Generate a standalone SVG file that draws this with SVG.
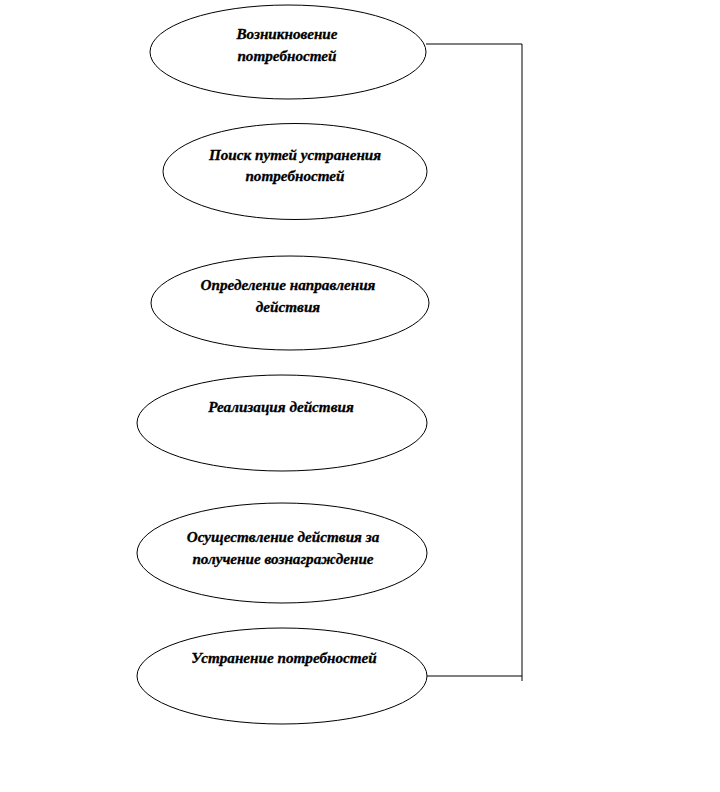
<svg xmlns="http://www.w3.org/2000/svg" width="720" height="792" viewBox="0 0 720 792">
<style>
.n{fill:#fff;stroke:#000;stroke-width:1}
.t{font-family:"Liberation Serif",serif;font-size:15.2px;font-weight:bold;font-style:italic;text-anchor:middle;fill:#000;stroke:#000;stroke-width:0.3}
.c{fill:none;stroke:#000;stroke-width:1}
</style>
<rect width="720" height="792" fill="#fff"/>
<g id="connectors">
<polyline class="c" points="426,44 522,44 522,681"/>
<line class="c" x1="426" y1="676" x2="522" y2="676"/>
</g>
<g id="n1"><ellipse class="n" cx="288" cy="52" rx="138" ry="47"/>
<text class="t" x="287" y="39">Возникновение</text><text class="t" x="287" y="61">потребностей</text></g>
<g id="n2"><ellipse class="n" cx="295" cy="171.5" rx="132" ry="48"/>
<text class="t" x="295" y="160">Поиск путей устранения</text><text class="t" x="295" y="181">потребностей</text></g>
<g id="n3"><ellipse class="n" cx="290" cy="303" rx="139" ry="47"/>
<text class="t" x="288" y="290">Определение направления</text><text class="t" x="288" y="312">действия</text></g>
<g id="n4"><ellipse class="n" cx="282" cy="423" rx="145" ry="48"/>
<text class="t" x="281" y="412">Реализация действия</text></g>
<g id="n5"><ellipse class="n" cx="282" cy="553" rx="145" ry="50"/>
<text class="t" x="283" y="542">Осуществление действия за</text><text class="t" x="283" y="564">получение вознаграждение</text></g>
<g id="n6"><ellipse class="n" cx="282" cy="676" rx="145" ry="48"/>
<text class="t" x="284" y="663">Устранение потребностей</text></g>
</svg>
